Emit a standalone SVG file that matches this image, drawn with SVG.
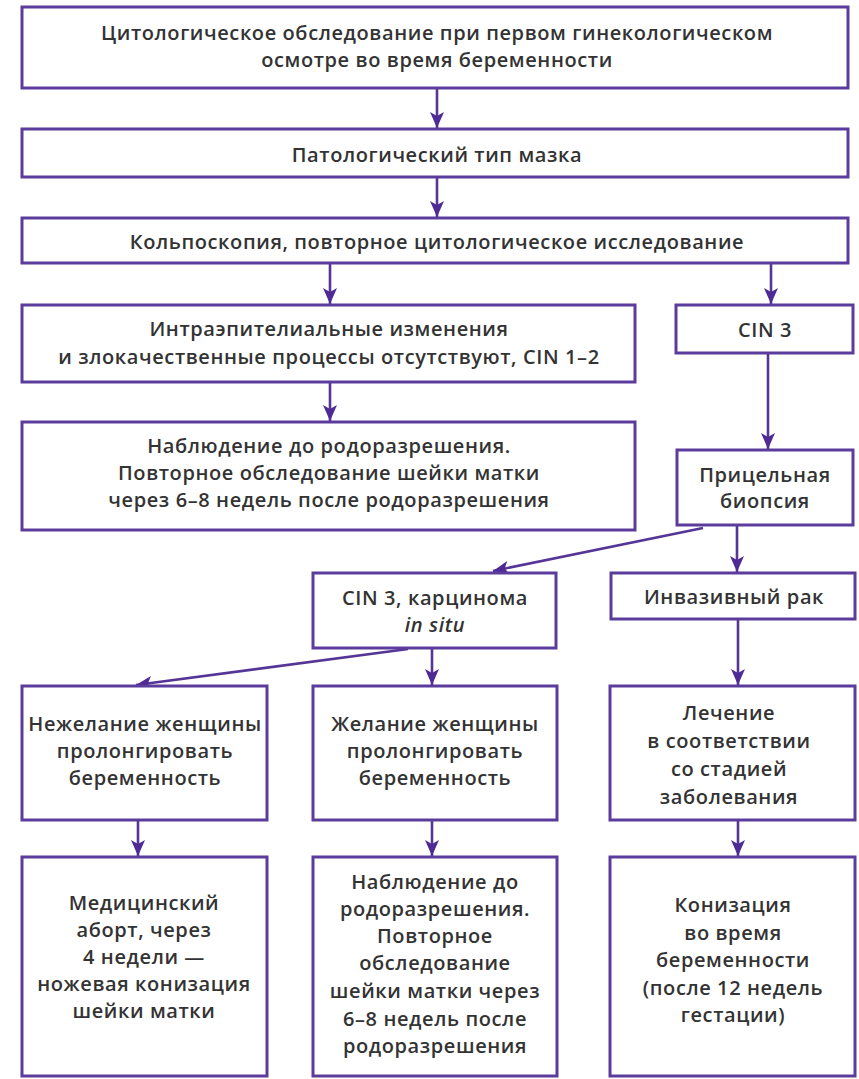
<svg xmlns="http://www.w3.org/2000/svg" width="859" height="1079" viewBox="0 0 859 1079">
<defs>
<style>
.box{fill:#ffffff;stroke:#5b3c9c;stroke-width:3}
.t{font-family:"Open Sans","Liberation Sans",sans-serif;font-size:20px;font-weight:600;letter-spacing:0.6px;fill:#333333;text-anchor:middle}
.c{fill:none;stroke:#553596;stroke-width:2.6}
</style>
<marker id="ah" markerUnits="userSpaceOnUse" markerWidth="16" markerHeight="14" refX="16" refY="7" orient="auto">
<path d="M0,0 L16,7 L0,14 L4,7 Z" fill="#4e2b94"/>
</marker>
</defs>
<rect width="859" height="1079" fill="#ffffff"/>
<g id="connectors">
<line class="c" x1="437" y1="88" x2="437" y2="128" marker-end="url(#ah)"/>
<line class="c" x1="437" y1="177" x2="437" y2="217" marker-end="url(#ah)"/>
<line class="c" x1="330" y1="263" x2="330" y2="304" marker-end="url(#ah)"/>
<line class="c" x1="771" y1="263" x2="771" y2="304" marker-end="url(#ah)"/>
<line class="c" x1="330" y1="382" x2="330" y2="421" marker-end="url(#ah)"/>
<line class="c" x1="768" y1="353" x2="768" y2="449" marker-end="url(#ah)"/>
<line class="c" x1="703" y1="528" x2="493" y2="571" marker-end="url(#ah)"/>
<line class="c" x1="737" y1="526" x2="737" y2="572" marker-end="url(#ah)"/>
<line class="c" x1="408" y1="649" x2="136" y2="685" marker-end="url(#ah)"/>
<line class="c" x1="432" y1="648" x2="432" y2="685" marker-end="url(#ah)"/>
<line class="c" x1="738" y1="619" x2="738" y2="685" marker-end="url(#ah)"/>
<line class="c" x1="138" y1="820" x2="138" y2="856" marker-end="url(#ah)"/>
<line class="c" x1="432" y1="820" x2="432" y2="856" marker-end="url(#ah)"/>
<line class="c" x1="738" y1="820" x2="738" y2="856" marker-end="url(#ah)"/>
</g>
<g id="n1"><rect class="box" x="22" y="7" width="826" height="81"/>
<text class="t" x="437" y="40">Цитологическое обследование при первом гинекологическом</text>
<text class="t" x="437" y="67">осмотре во время беременности</text></g>
<g id="n2"><rect class="box" x="22" y="129" width="826" height="48"/>
<text class="t" x="437" y="162">Патологический тип мазка</text></g>
<g id="n3"><rect class="box" x="22" y="218" width="826" height="45"/>
<text class="t" x="437" y="249">Кольпоскопия, повторное цитологическое исследование</text></g>
<g id="n4"><rect class="box" x="22" y="305" width="613" height="77"/>
<text class="t" x="329" y="336">Интраэпителиальные изменения</text>
<text class="t" x="329" y="364">и злокачественные процессы отсутствуют, CIN 1–2</text></g>
<g id="n5"><rect class="box" x="676" y="305" width="177" height="48"/>
<text class="t" x="765" y="337">CIN 3</text></g>
<g id="n6"><rect class="box" x="22" y="422" width="613" height="108"/>
<text class="t" x="329" y="453">Наблюдение до родоразрешения.</text>
<text class="t" x="329" y="480">Повторное обследование шейки матки</text>
<text class="t" x="329" y="507">через 6–8 недель после родоразрешения</text></g>
<g id="n7"><rect class="box" x="677" y="450" width="176" height="75"/>
<text class="t" x="765" y="482">Прицельная</text>
<text class="t" x="765" y="508">биопсия</text></g>
<g id="n8"><rect class="box" x="313" y="573" width="243" height="75"/>
<text class="t" x="435" y="605">CIN 3, карцинома</text>
<text class="t" x="435" y="632" font-style="italic">in situ</text></g>
<g id="n9"><rect class="box" x="611" y="573" width="244" height="46"/>
<text class="t" x="734" y="604">Инвазивный рак</text></g>
<g id="n10"><rect class="box" x="22" y="686" width="245" height="134"/>
<text class="t" x="145" y="731">Нежелание женщины</text>
<text class="t" x="145" y="758">пролонгировать</text>
<text class="t" x="145" y="785">беременность</text></g>
<g id="n11"><rect class="box" x="313" y="686" width="244" height="134"/>
<text class="t" x="435" y="731">Желание женщины</text>
<text class="t" x="435" y="758">пролонгировать</text>
<text class="t" x="435" y="785">беременность</text></g>
<g id="n12"><rect class="box" x="610" y="686" width="245" height="134"/>
<text class="t" x="729" y="720">Лечение</text>
<text class="t" x="729" y="748">в соответствии</text>
<text class="t" x="729" y="776">со стадией</text>
<text class="t" x="729" y="804">заболевания</text></g>
<g id="n13"><rect class="box" x="22" y="857" width="245" height="219"/>
<text class="t" x="144" y="910">Медицинский</text>
<text class="t" x="144" y="937">аборт, через</text>
<text class="t" x="144" y="964">4 недели —</text>
<text class="t" x="144" y="991">ножевая конизация</text>
<text class="t" x="144" y="1018">шейки матки</text></g>
<g id="n14"><rect class="box" x="313" y="857" width="244" height="219"/>
<text class="t" x="435" y="889">Наблюдение до</text>
<text class="t" x="435" y="916">родоразрешения.</text>
<text class="t" x="435" y="943">Повторное</text>
<text class="t" x="435" y="970">обследование</text>
<text class="t" x="435" y="998">шейки матки через</text>
<text class="t" x="435" y="1026">6–8 недель после</text>
<text class="t" x="435" y="1053">родоразрешения</text></g>
<g id="n15"><rect class="box" x="610" y="857" width="245" height="219"/>
<text class="t" x="733" y="912">Конизация</text>
<text class="t" x="733" y="940">во время</text>
<text class="t" x="733" y="967">беременности</text>
<text class="t" x="733" y="995">(после 12 недель</text>
<text class="t" x="733" y="1022">гестации)</text></g>
</svg>
